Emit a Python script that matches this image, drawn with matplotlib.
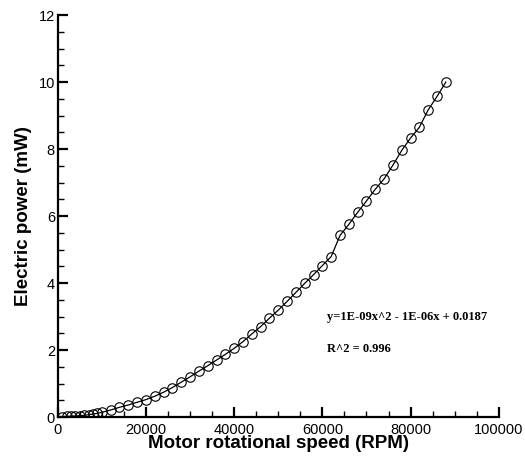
import matplotlib.pyplot as plt
from matplotlib.ticker import MultipleLocator

# motor speed (RPM) and electric power (mW)
rpm = [1000, 2000, 3000, 4000, 5000, 6000, 7000, 8000, 9000, 10000,
       12000, 14000, 16000, 18000, 20000, 22000, 24000, 26000, 28000, 30000,
       32000, 34000, 36000, 38000, 40000, 42000, 44000, 46000, 48000, 50000,
       52000, 54000, 56000, 58000, 60000, 62000, 64000, 66000, 68000, 70000,
       72000, 74000, 76000, 78000, 80000, 82000, 84000, 86000, 88000]
power = [0.01, 0.02, 0.025, 0.03, 0.04, 0.05, 0.07, 0.09, 0.11, 0.14,
         0.21, 0.29, 0.36, 0.44, 0.52, 0.62, 0.74, 0.88, 1.04, 1.20,
         1.37, 1.53, 1.70, 1.87, 2.05, 2.25, 2.48, 2.70, 2.95, 3.19,
         3.45, 3.72, 3.99, 4.25, 4.52, 4.79, 5.42, 5.75, 6.11, 6.45,
         6.80, 7.11, 7.52, 7.96, 8.33, 8.65, 9.17, 9.57, 10.00]

fit_text = "y=1E-09x^2 - 1E-06x + 0.0187"
r2_text = "R^2 = 0.996"

plt.rcParams['font.family'] = ['Liberation Sans', 'DejaVu Sans']

fig = plt.figure(figsize=(5.25, 4.57), dpi=100)
ax = fig.add_axes([0.110, 0.0875, 0.840, 0.8795])

ax.plot(rpm, power, color='black', linewidth=0.9, marker='o', markersize=6.8,
        markerfacecolor='none', markeredgecolor='black', markeredgewidth=0.8)

ax.set_xlim(0, 100000)
ax.set_ylim(0, 12)
ax.xaxis.set_major_locator(MultipleLocator(20000))
ax.xaxis.set_minor_locator(MultipleLocator(5000))
ax.yaxis.set_major_locator(MultipleLocator(2))
ax.yaxis.set_minor_locator(MultipleLocator(0.5))

for s in ['top', 'right']:
    ax.spines[s].set_visible(False)
for s in ['left', 'bottom']:
    ax.spines[s].set_linewidth(1.6)

ax.tick_params(which='major', direction='in', length=7, width=1.6, labelsize=10.5)
ax.tick_params(axis='x', which='major', pad=4)
ax.tick_params(axis='y', which='major', pad=2)
ax.tick_params(which='minor', direction='in', length=4, width=1.0)

ax.set_xlabel('Motor rotational speed (RPM)', fontsize=13.5, fontweight='bold', labelpad=-1)
ax.set_ylabel('Electric power (mW)', fontsize=13.5, fontweight='bold', labelpad=5)

ax.text(61000, 3.0, fit_text, family='Liberation Serif', fontweight='bold',
        fontsize=9, va='center')
ax.text(61000, 2.03, r2_text, family='Liberation Serif', fontweight='bold',
        fontsize=9, va='center')

fig.savefig('out.png', dpi=100)
